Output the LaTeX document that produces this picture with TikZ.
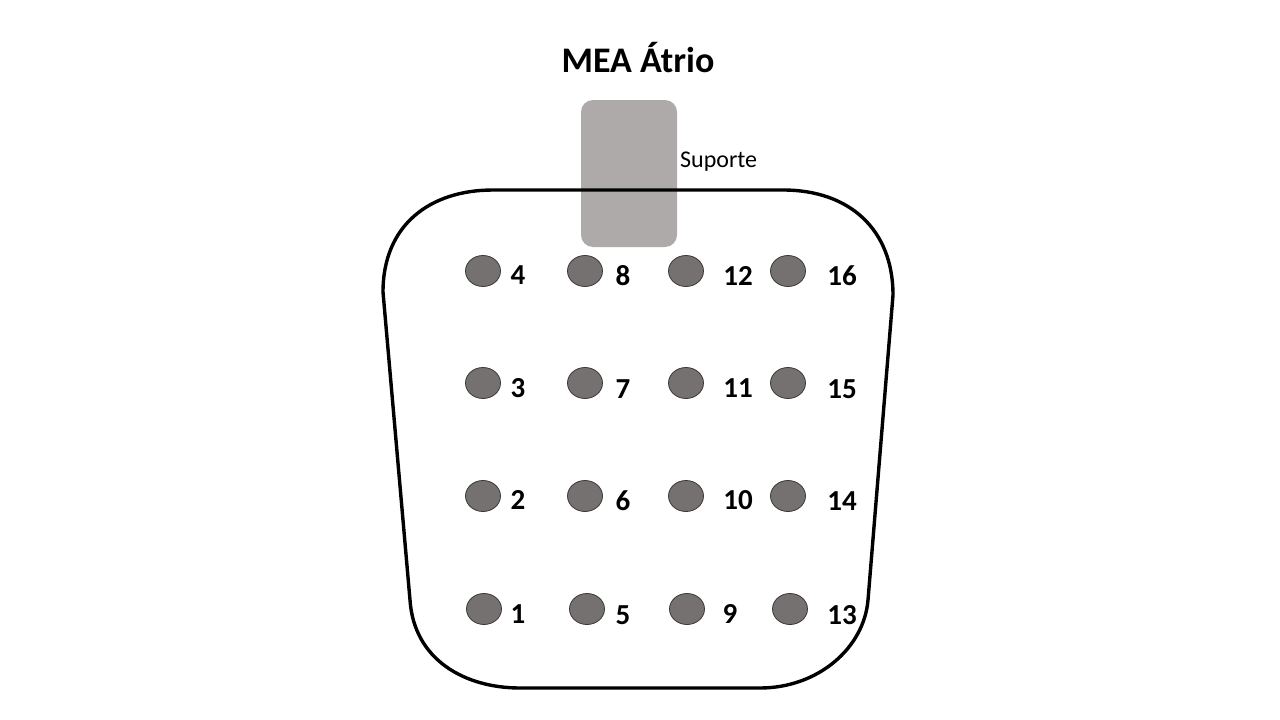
\documentclass[tikz,border=0pt]{standalone}
\usepackage{fontspec}
\setmainfont{Carlito}
\usetikzlibrary{shapes.geometric}
\definecolor{supfill}{HTML}{AEAAAA}
\definecolor{elfill}{HTML}{767171}
\definecolor{eldraw}{HTML}{3A3838}
\begin{document}
\begin{tikzpicture}[x=1pt,y=-1pt,
  electrode/.style={ellipse,draw=eldraw,line width=0.8pt,fill=elfill,minimum width=35pt,minimum height=31pt,inner sep=0pt},
  elabel/.style={anchor=base,font=\bfseries\fontsize{29}{31}\selectfont},
  outline/.style={line width=3.4pt,line join=round}]
\useasboundingbox (0,0) rectangle (1280,720);
\node[anchor=base,font=\bfseries\fontsize{36}{40}\selectfont] (title) at (638,72) {MEA Átrio};
\node[fill=supfill,rounded corners=12pt,minimum width=96pt,minimum height=147pt,inner sep=0pt] (sup) at (629,173.5) {};
\node[anchor=base west,inner sep=0pt,font=\fontsize{24}{26}\selectfont] (suplabel) at (680,167) {Suporte};
\draw[outline] (493,190) -- (783,190)
  .. controls (850,190) and (893,230) .. (893,295)
  -- (868,600)
  .. controls (864,648) and (818,688) .. (760,688)
  -- (520,688)
  .. controls (465,688) and (414,660) .. (410,600)
  -- (383,292)
  .. controls (383,225) and (430,190) .. (493,190) -- cycle;
% electrodes
\foreach \n/\x/\y in {4/483/271,8/585/271,12/686/271,16/788/271,
                      3/483/383,7/585/383,11/686/383,15/788/383,
                      2/483/496,6/585/496,10/686/496,14/788/496,
                      1/484/609,5/587/609,9/687/609,13/790/609}
  \node[electrode] (e\n) at (\x,\y) {};
\foreach \n/\x/\y in {4/518/284,8/623/285,12/738/285,16/842/285,
                      3/518/397,7/623/398,11/738/397,15/842/398,
                      2/518/509,6/623/510,10/738/509,14/842/510,
                      1/518/623,5/623/624,9/730/623,13/842/624}
  \node[elabel] (l\n) at (\x,\y) {\n};
\end{tikzpicture}
\end{document}
